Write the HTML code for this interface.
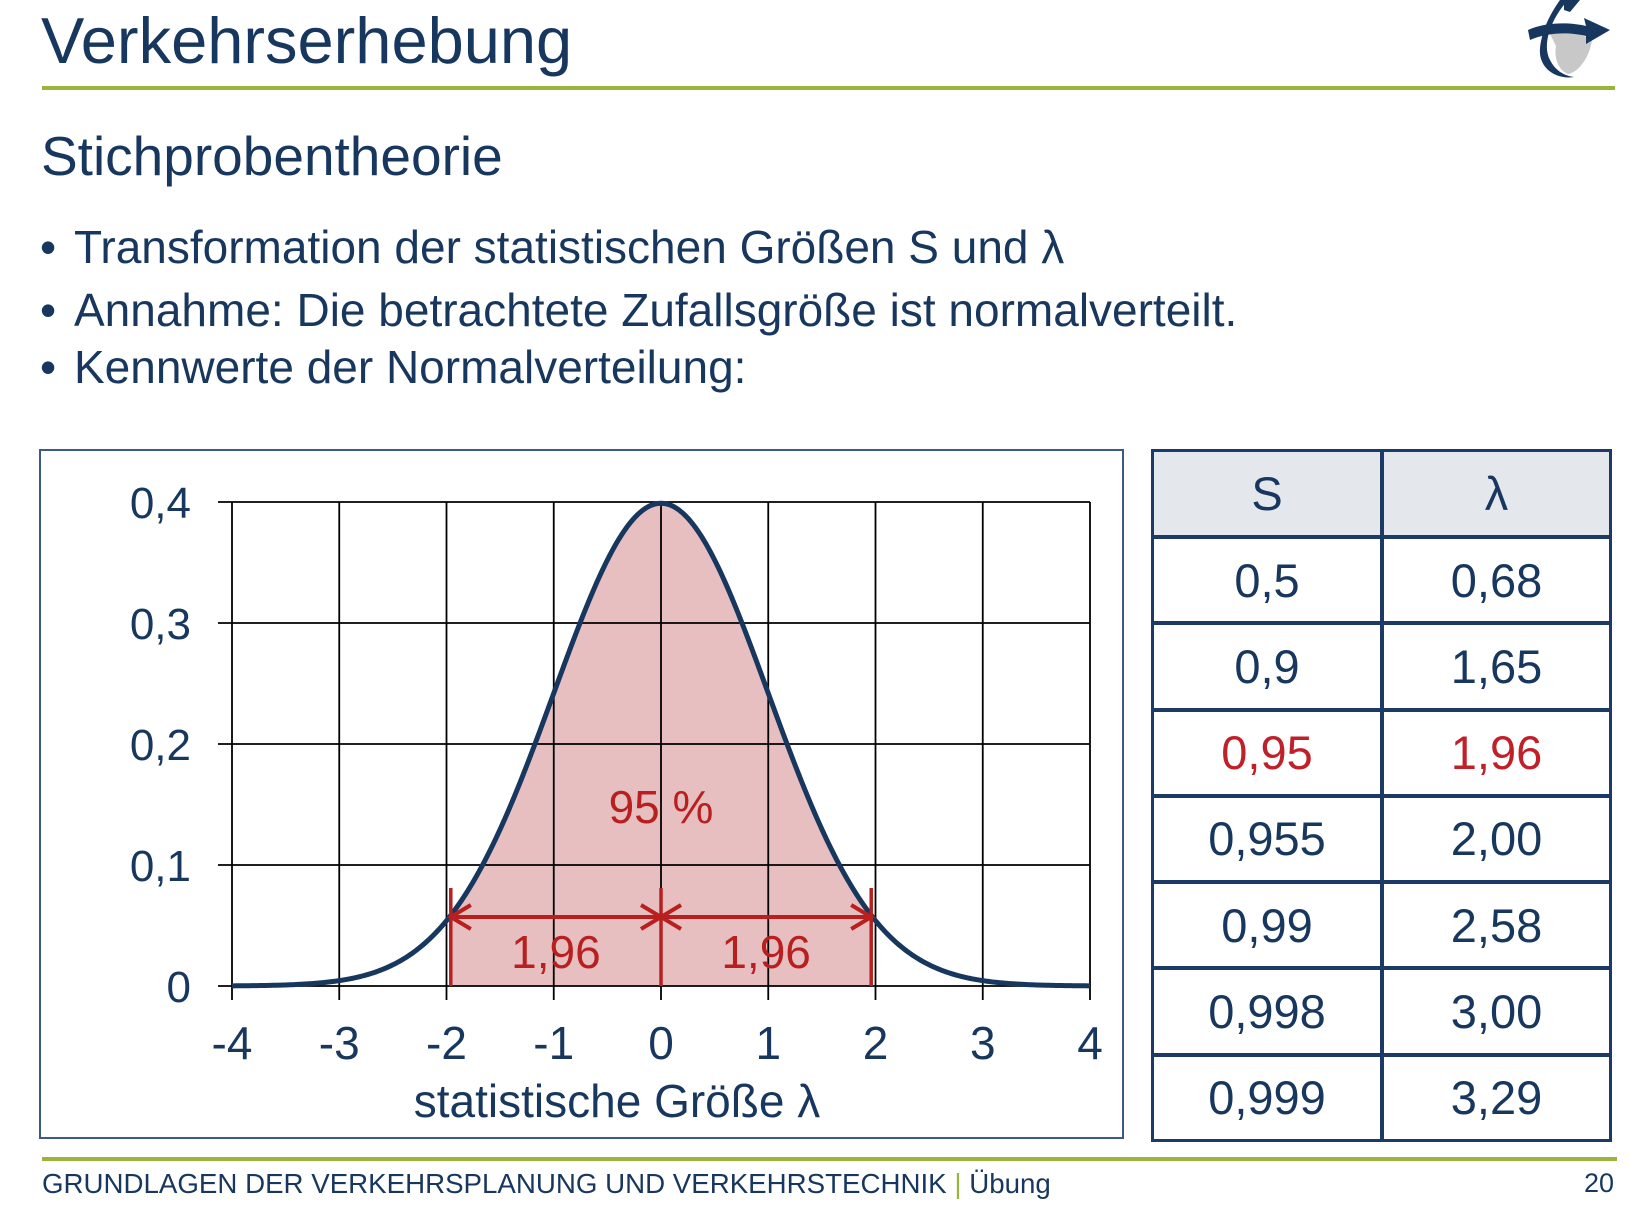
<!DOCTYPE html>
<html><head><meta charset="utf-8"><style>
body{margin:0;background:#fff;width:1633px;height:1205px;overflow:hidden;position:relative;font-family:"Liberation Sans",sans-serif;color:#17375e}
.a{position:absolute;white-space:nowrap}
.c{position:absolute;box-sizing:border-box;display:flex;align-items:center;justify-content:center;font-size:47px;color:#17375e}
</style></head><body>
<div class="a" style="left:41px;top:3px;font-size:65px">Verkehrserhebung</div>
<div class="a" style="left:42px;top:86px;width:1573px;height:4px;background:#9bb43c"></div>
<svg class="a" style="left:1520px;top:0" width="100" height="80" viewBox="0 0 100 80">
<path d="M30 34 C40 30 60 32 72 40 C70 55 60 72 48 74 C38 70 34 58 36 46 Z" fill="#c8c8c8"/>
<path d="M40 0 L48 0 C30 20 22 45 30 60 C36 72 46 76 54 77 C36 80 18 68 20 48 C22 30 30 14 40 0 Z" fill="#17375e"/>
<path d="M8 30 C25 22 50 22 66 26 L64 18 L90 30 L66 44 L66 36 C50 32 28 32 10 40 Z" fill="#17375e"/>
<path d="M44 0 L60 0 L50 12 L44 10 Z" fill="#17375e"/>
</svg>
<div class="a" style="left:41px;top:124px;font-size:55px">Stichprobentheorie</div>
<div class="a" style="left:40px;top:220px;font-size:46px">•</div>
<div class="a" style="left:74px;top:220px;font-size:46px">Transformation der statistischen Größen S und λ</div>
<div class="a" style="left:40px;top:283px;font-size:46px">•</div>
<div class="a" style="left:74px;top:283px;font-size:46px">Annahme: Die betrachtete Zufallsgröße ist normalverteilt.</div>
<div class="a" style="left:40px;top:340px;font-size:46px">•</div>
<div class="a" style="left:74px;top:340px;font-size:46px">Kennwerte der Normalverteilung:</div>

<svg class="a" id="chart" style="left:0;top:0" width="1633" height="1205"></svg>

<div id="tbl"></div>

<div class="a" style="left:42px;top:1157px;width:1575px;height:4px;background:#9bb43c"></div>
<div class="a" style="left:42px;top:1168px;font-size:27.7px">GRUNDLAGEN DER VERKEHRSPLANUNG UND VERKEHRSTECHNIK <span style="color:#9bb43c">|</span> Übung</div>
<div class="a" style="right:19px;top:1168px;font-size:27px">20</div>

<script>
const xTicks=[-4,-3,-2,-1,0,1,2,3,4];
const xTickLabels=["-4","-3","-2","-1","0","1","2","3","4"];
const yTicks=[0,0.1,0.2,0.3,0.4];
const yTickLabels=["0","0,1","0,2","0,3","0,4"];
const lambda=[1.96];
const areaLabel=["95 %"];
const tableS=["0,5","0,9","0,95","0,955","0,99","0,998","0,999"];
const tableL=["0,68","1,65","1,96","2,00","2,58","3,00","3,29"];
const NS="http://www.w3.org/2000/svg";
const svg=document.getElementById('chart');
const X=v=>661+v*107.25, Y=v=>986-v*1210;
function mk(t,a,p){const e=document.createElementNS(NS,t);for(const k in a)e.setAttribute(k,a[k]);(p||svg).appendChild(e);return e;}
const pdf=x=>Math.exp(-x*x/2)/Math.sqrt(2*Math.PI);
let box=mk('rect',{x:40,y:450,width:1083,height:688,fill:'none',stroke:'#3c5a84','stroke-width':2});


const L=lambda[0];
let d=`M${X(-L)},${Y(0)}`;
for(let x=-L;x<=L+1e-9;x+=0.02)d+=` L${X(x)},${Y(pdf(x))}`;
d+=` L${X(L)},${Y(pdf(L))} L${X(L)},${Y(0)} Z`;
let area=mk('path',{d,fill:'#e8bfc0'});


xTicks.forEach((t,i)=>{
 let g=mk('line',{x1:X(t),x2:X(t),y1:Y(0.4),y2:Y(0)+14,stroke:'#000','stroke-width':1.8});
 
 
 let tx=mk('text',{x:X(t),y:1059,'text-anchor':'middle','font-size':46,fill:'#17375e'});
 tx.textContent=xTickLabels[i];
 
 
});
yTicks.forEach((t,i)=>{
 let g=mk('line',{x1:218,x2:X(4),y1:Y(t),y2:Y(t),stroke:'#000','stroke-width':1.8});
 
 
 let tx=mk('text',{x:191,y:Y(t)+16,'text-anchor':'end','font-size':44,fill:'#17375e'});
 tx.textContent=yTickLabels[i];
 
 
});
let c=`M${X(-4)},${Y(pdf(-4))}`;
for(let x=-4;x<=4.0001;x+=0.02)c+=` L${X(x)},${Y(pdf(x))}`;
let curve=mk('path',{d:c,fill:'none',stroke:'#17375e','stroke-width':5});


const red='#b8201f';
[-L,0,L].forEach(v=>{
 let l=mk('line',{x1:X(v),x2:X(v),y1:888,y2:Y(0),stroke:red,'stroke-width':3.5});
 
 
});
const ay=917;
let ar=mk('path',{d:`M${X(-L)},${ay} L${X(L)},${ay} M${X(-L)+20},${ay-12} L${X(-L)},${ay} L${X(-L)+20},${ay+12} M${X(0)-20},${ay-12} L${X(0)},${ay} L${X(0)-20},${ay+12} M${X(0)+20},${ay-12} L${X(0)},${ay} L${X(0)+20},${ay+12} M${X(L)-20},${ay-12} L${X(L)},${ay} L${X(L)-20},${ay+12}`,fill:'none',stroke:red,'stroke-width':4});


[[X(-L/2),'interval-label-left'],[X(L/2),'interval-label-right']].forEach(([x,n])=>{
 let t=mk('text',{x:x,y:968,'text-anchor':'middle','font-size':46,fill:red});
 t.textContent=String(L).replace('.',',');
 
 
});
let p=mk('text',{x:X(0),y:823,'text-anchor':'middle','font-size':46,fill:red});
p.textContent=areaLabel[0];


let at=mk('text',{x:617,y:1117,'text-anchor':'middle','font-size':46,fill:'#17375e'});
at.textContent='statistische Größe λ';



const tbl=document.getElementById('tbl');
const tx0=1151, tx1=1381, tx2=1612, ty0=449, hh=87, rh=(1140-536)/7;
function cell(x,y,w,h,txt,name,bg,col){
 const e=document.createElement('div');
 e.className='c';
 e.style.cssText=`left:${x}px;top:${y}px;width:${w}px;height:${h}px;border:3px solid #1b3a66;background:${bg};color:${col}`;
 e.textContent=txt;
 
 
 tbl.appendChild(e);
}
cell(tx0,ty0,tx1-tx0+2,hh+2,'S','header-s','#e4e7ec','#17375e');
cell(tx1,ty0,tx2-tx1,hh+2,'λ','header-lambda','#e4e7ec','#17375e');
tableS.forEach((s,i)=>{
 const y=ty0+hh+i*rh, col=i===2?'#c0202a':'#17375e';
 cell(tx0,y,tx1-tx0+2,rh+2,s,'cell-s','#fff',col);
 cell(tx1,y,tx2-tx1,rh+2,tableL[i],'cell-lambda','#fff',col);
});
</script>
</body></html>
